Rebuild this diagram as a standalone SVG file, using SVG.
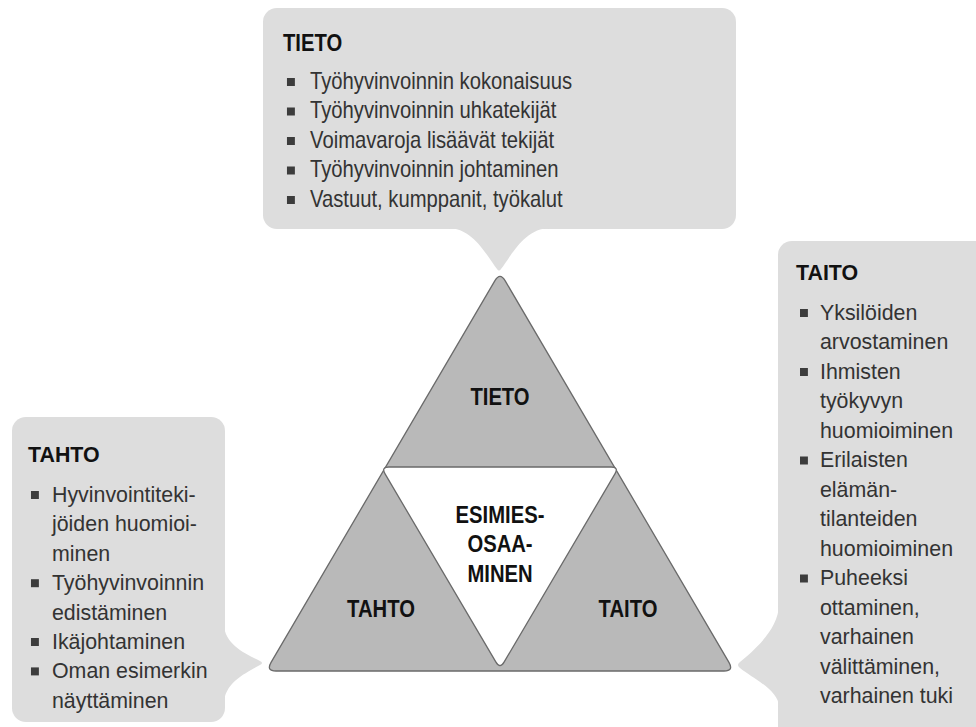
<svg xmlns="http://www.w3.org/2000/svg" width="976" height="727" viewBox="0 0 976 727">
<style>
.callout{fill:#dddddd;}
.tri{fill:#b9b9b9;stroke:#6a6a6a;stroke-width:1.3;}
.core{fill:#ffffff;stroke:#6a6a6a;stroke-width:1.3;}
.title{font-family:"Liberation Sans",Arial,sans-serif;font-weight:bold;font-size:23px;fill:#111111;}
.item{font-family:"Liberation Sans",Arial,sans-serif;font-size:23px;fill:#333333;}
.lbl{font-family:"Liberation Sans",Arial,sans-serif;font-weight:bold;font-size:23px;fill:#111111;text-anchor:middle;}
.bul{fill:#3c3c3c;}
</style>
<rect width="976" height="727" fill="#ffffff"/>

<g id="callout-tieto">
<rect class="callout" x="263" y="8" width="473" height="221" rx="14"/>
<path class="callout" d="M 448 228 C 474 228, 488 258, 497 269 Q 499 272 501 269 C 510 258, 524 228, 550 228 Z"/>
<g transform="translate(283 0) scale(0.88 1)">
<text class="title" x="0" y="51">TIETO</text>
<rect class="bul" x="4.5" y="78" width="9" height="8"/>
<text class="item" x="30.7" y="89">Työhyvinvoinnin kokonaisuus</text>
<rect class="bul" x="4.5" y="107.5" width="9" height="8"/>
<text class="item" x="30.7" y="118.5">Työhyvinvoinnin uhkatekijät</text>
<rect class="bul" x="4.5" y="137" width="9" height="8"/>
<text class="item" x="30.7" y="148">Voimavaroja lisäävät tekijät</text>
<rect class="bul" x="4.5" y="166.5" width="9" height="8"/>
<text class="item" x="30.7" y="177.5">Työhyvinvoinnin johtaminen</text>
<rect class="bul" x="4.5" y="196" width="9" height="8"/>
<text class="item" x="30.7" y="207">Vastuut, kumppanit, työkalut</text>
</g>
</g>

<g id="callout-tahto">
<rect class="callout" x="12" y="417" width="213" height="305" rx="14"/>
<path class="callout" d="M 224 624 C 224 645, 248 655, 260 661 Q 264 663 260 665 C 248 672, 224 682, 224 704 Z"/>
<g transform="translate(28 0) scale(0.93 1)">
<text class="title" x="0" y="462">TAHTO</text>
<rect class="bul" x="3.2" y="491" width="8.5" height="8"/>
<text class="item" x="25.8" y="502">Hyvinvointiteki-</text>
<text class="item" x="25.8" y="531.4">jöiden huomioi-</text>
<text class="item" x="25.8" y="560.8">minen</text>
<rect class="bul" x="3.2" y="579.2" width="8.5" height="8"/>
<text class="item" x="25.8" y="590.2">Työhyvinvoinnin</text>
<text class="item" x="25.8" y="619.6">edistäminen</text>
<rect class="bul" x="3.2" y="638" width="8.5" height="8"/>
<text class="item" x="25.8" y="649">Ikäjohtaminen</text>
<rect class="bul" x="3.2" y="667.4" width="8.5" height="8"/>
<text class="item" x="25.8" y="678.4">Oman esimerkin</text>
<text class="item" x="25.8" y="707.8">näyttäminen</text>
</g>
</g>

<g id="callout-taito">
<rect class="callout" x="778" y="241" width="220" height="500" rx="14"/>
<path class="callout" d="M 779 604 C 779 630, 752 652, 740 662 Q 736 665 740 668 C 752 678, 779 690, 779 707 Z"/>
<g transform="translate(796 0) scale(0.93 1)">
<text class="title" x="0" y="280">TAITO</text>
<rect class="bul" x="4.3" y="309" width="8.5" height="8"/>
<text class="item" x="25.8" y="320">Yksilöiden</text>
<text class="item" x="25.8" y="349.5">arvostaminen</text>
<rect class="bul" x="4.3" y="368" width="8.5" height="8"/>
<text class="item" x="25.8" y="379">Ihmisten</text>
<text class="item" x="25.8" y="408.5">työkyvyn</text>
<text class="item" x="25.8" y="438">huomioiminen</text>
<rect class="bul" x="4.3" y="456.5" width="8.5" height="8"/>
<text class="item" x="25.8" y="467.5">Erilaisten</text>
<text class="item" x="25.8" y="497">elämän-</text>
<text class="item" x="25.8" y="526.5">tilanteiden</text>
<text class="item" x="25.8" y="556">huomioiminen</text>
<rect class="bul" x="4.3" y="574.5" width="8.5" height="8"/>
<text class="item" x="25.8" y="585.5">Puheeksi</text>
<text class="item" x="25.8" y="615">ottaminen,</text>
<text class="item" x="25.8" y="644.5">varhainen</text>
<text class="item" x="25.8" y="674">välittäminen,</text>
<text class="item" x="25.8" y="703.5">varhainen tuki</text>
</g>
</g>

<g id="triangle">
<path class="tri" d="M 494.94 280.63 Q 500 272 505.06 280.63 L 728.94 662.37 Q 734 671 724 671 L 276 671 Q 266 671 271.06 662.37 Z"/>
<path class="core" d="M 389 467 L 611 467 Q 619 467 614.94 473.9 L 504.06 662.1 Q 500 669 495.94 662.1 L 385.06 473.9 Q 381 467 389 467 Z"/>
</g>

<g id="node-tieto"><g transform="translate(500 0) scale(0.88 1)"><text class="lbl" x="0" y="405">TIETO</text></g></g>
<g id="node-tahto"><g transform="translate(381 0) scale(0.88 1)"><text class="lbl" x="0" y="617">TAHTO</text></g></g>
<g id="node-taito"><g transform="translate(628 0) scale(0.88 1)"><text class="lbl" x="0" y="617">TAITO</text></g></g>
<g id="node-esimies"><g transform="translate(500 0) scale(0.88 1)">
<text class="lbl" x="0" y="523">ESIMIES-</text>
<text class="lbl" x="0" y="552">OSAA-</text>
<text class="lbl" x="0" y="582">MINEN</text>
</g></g>
</svg>
